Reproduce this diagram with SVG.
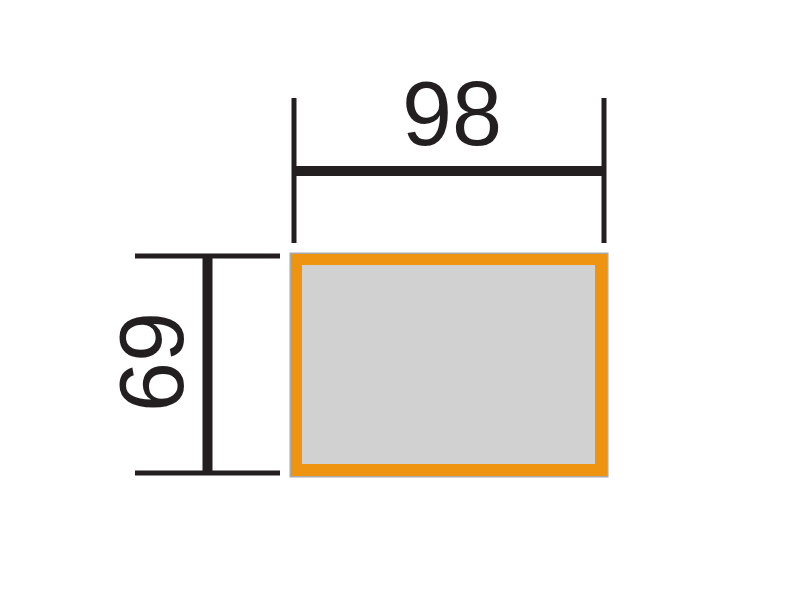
<svg xmlns="http://www.w3.org/2000/svg" width="800" height="600" viewBox="0 0 800 600">
<style>
.dim{stroke:#231f20;fill:none}
.lbl{font-family:"Liberation Sans",Arial,sans-serif;font-size:90px;fill:#231f20;text-anchor:middle}
</style>
<rect width="800" height="600" fill="#ffffff"/>
<g id="panel">
<rect x="289.5" y="252.5" width="319" height="225" fill="#a9a9a9"/>
<rect x="291" y="254" width="316" height="222" fill="#ef9410"/>
<rect x="302" y="265" width="293" height="199" fill="#d1d1d1"/>
</g>
<g id="connectors">
<line class="dim" x1="294" y1="98" x2="294" y2="243" stroke-width="5"/>
<line class="dim" x1="604" y1="98" x2="604" y2="243" stroke-width="5"/>
<line class="dim" x1="294" y1="171" x2="604" y2="171" stroke-width="10"/>
<line class="dim" x1="135" y1="256" x2="280" y2="256" stroke-width="5"/>
<line class="dim" x1="135" y1="473" x2="280" y2="473" stroke-width="5"/>
<line class="dim" x1="207.5" y1="256" x2="207.5" y2="473" stroke-width="10"/>
</g>
<g id="width-label"><text class="lbl" x="452" y="145">98</text></g>
<g id="height-label"><text class="lbl" transform="translate(183,362) rotate(-90)">69</text></g>
</svg>
